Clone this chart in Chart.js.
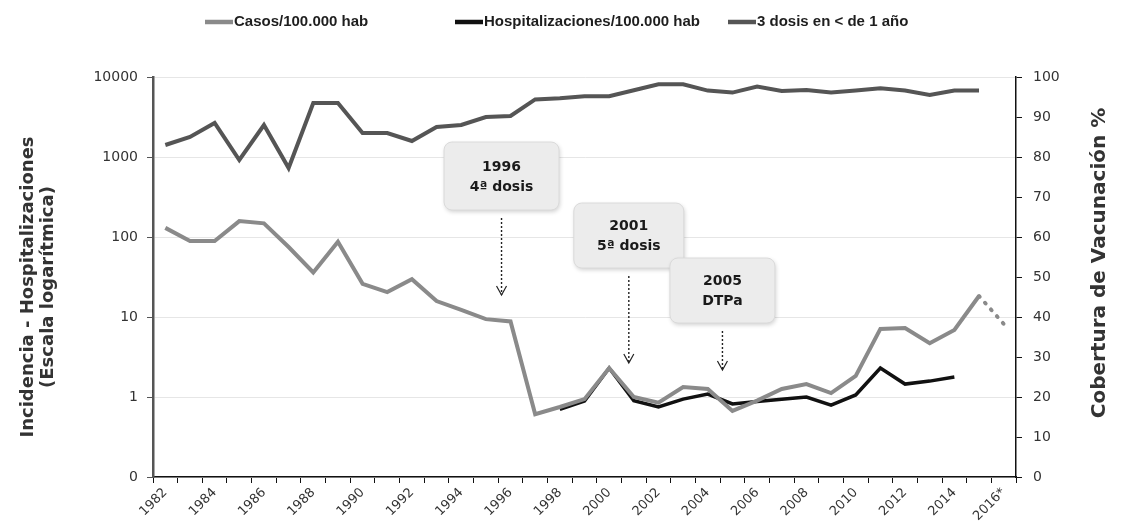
<!DOCTYPE html>
<html>
<head>
<meta charset="utf-8">
<title>Casos, hospitalizaciones y cobertura</title>
<script src="https://cdn.jsdelivr.net/npm/chart.js@4"></script>
<style>
  html, body { margin: 0; padding: 0; background: #fff; }
  #wrap { width: 1123px; height: 529px; }
</style>
</head>
<body>
<div id="wrap"><canvas id="chart"></canvas></div>
<script>
// categorías (años)
const years = ['1982', '1983', '1984', '1985', '1986', '1987', '1988', '1989', '1990', '1991',
  '1992', '1993', '1994', '1995', '1996', '1997', '1998', '1999', '2000', '2001',
  '2002', '2003', '2004', '2005', '2006', '2007', '2008', '2009', '2010', '2011',
  '2012', '2013', '2014', '2015', '2016*'];

// Casos/100.000 hab (escala logarítmica)
const casos = [130, 89, 89, 158, 148, 75, 36, 87, 26, 20.5,
  29.7, 15.8, 12.3, 9.4, 8.8, 0.61, 0.75, 0.94, 2.3, 1.0,
  0.85, 1.33, 1.26, 0.67, 0.9, 1.26, 1.45, 1.12, 1.83, 7.1,
  7.3, 4.7, 6.9, 18.3, 8.2];

// Hospitalizaciones/100.000 hab
const hospitalizaciones = [null, null, null, null, null, null, null, null, null, null,
  null, null, null, null, null, null, 0.7, 0.89, 2.3, 0.9,
  0.75, 0.94, 1.09, 0.82, 0.88, 0.94, 1.0, 0.79, 1.06, 2.3,
  1.45, 1.58, 1.78, null, null];

// 3 dosis en < de 1 año (%)
const cobertura = [83, 85, 88.5, 79.25, 88, 77.25, 93.5, 93.5, 86, 86,
  84, 87.5, 88, 90, 90.25, 94.4, 94.7, 95.2, 95.2, 96.7,
  98.2, 98.2, 96.6, 96.1, 97.6, 96.5, 96.75, 96.1, 96.6, 97.2,
  96.6, 95.5, 96.6, 96.6, null];

// ticks del eje izquierdo
const leftTicks = [0.1, 1, 10, 100, 1000, 10000];
const leftTickLabels = ['0', '1', '10', '100', '1000', '10000'];

// notas (año, texto)
const noteYears = ['1996', '2001', '2005'];
const noteTexts = [['1996', '4ª dosis'], ['2001', '5ª dosis'], ['2005', 'DTPa']];

// leyenda, títulos de ejes y cuadros con flechas
const extras = {
  id: 'extras',
  afterDatasetsDraw(chart) {
    const { ctx } = chart;
    const x = chart.scales.x;
    const y1 = chart.scales.y1;

    // leyenda (colores y textos tomados de los datasets)
    const legendX = [205, 455, 728];
    ctx.save();
    ctx.font = 'bold 15px "Liberation Sans", Arial, sans-serif';
    ctx.textBaseline = 'middle';
    ctx.textAlign = 'left';
    chart.data.datasets.forEach((ds, i) => {
      ctx.strokeStyle = ds.borderColor;
      ctx.lineWidth = 4.5;
      ctx.beginPath();
      ctx.moveTo(legendX[i], 22);
      ctx.lineTo(legendX[i] + 28, 22);
      ctx.stroke();
      ctx.fillStyle = '#1e1e1e';
      ctx.fillText(ds.label, legendX[i] + 29, 22);
    });
    ctx.restore();

    // posición de cada cuadro (en unidades del eje derecho)
    const geo = [
      { dx: -9, w: 115, top: 83.75, bottom: 66.75, tip: 45.5 },
      { dx: -5, w: 110, top: 68.5, bottom: 52.25, tip: 28.5 },
      { dx: -10, w: 105, top: 54.75, bottom: 38.5, tip: 26.75 }
    ];
    noteYears.forEach((yr, i) => {
      const g = geo[i];
      const cx = x.getPixelForValue(years.indexOf(yr)) + g.dx;
      const top = y1.getPixelForValue(g.top);
      const bottom = y1.getPixelForValue(g.bottom);
      const tip = y1.getPixelForValue(g.tip);

      ctx.save();
      ctx.shadowColor = 'rgba(0,0,0,0.18)';
      ctx.shadowBlur = 4;
      ctx.shadowOffsetX = 1;
      ctx.shadowOffsetY = 2;
      ctx.fillStyle = '#ececec';
      ctx.beginPath();
      ctx.roundRect(cx - g.w / 2, top, g.w, bottom - top, 8);
      ctx.fill();
      ctx.shadowColor = 'transparent';
      ctx.strokeStyle = '#dadada';
      ctx.lineWidth = 1;
      ctx.stroke();

      ctx.fillStyle = '#1a1a1a';
      ctx.font = 'bold 14px "DejaVu Sans"';
      ctx.textAlign = 'center';
      ctx.textBaseline = 'middle';
      const mid = (top + bottom) / 2;
      ctx.fillText(noteTexts[i][0], cx, mid - 9);
      ctx.fillText(noteTexts[i][1], cx, mid + 11);

      // flecha punteada
      ctx.strokeStyle = '#222';
      ctx.lineWidth = 1.4;
      ctx.setLineDash([2, 2]);
      ctx.beginPath();
      ctx.moveTo(cx, bottom + 8);
      ctx.lineTo(cx, tip);
      ctx.stroke();
      ctx.setLineDash([]);
      ctx.lineWidth = 1.2;
      ctx.beginPath();
      ctx.moveTo(cx - 5, tip - 9);
      ctx.lineTo(cx, tip);
      ctx.lineTo(cx + 5, tip - 9);
      ctx.stroke();
      ctx.restore();
    });

    // títulos de los ejes
    ctx.save();
    ctx.fillStyle = '#333';
    ctx.textAlign = 'center';
    ctx.textBaseline = 'middle';
    ctx.font = 'bold 18px "DejaVu Sans"';
    ctx.translate(28, 287);
    ctx.rotate(-Math.PI / 2);
    ctx.fillText('Incidencia - Hospitalizaciones', 0, 0);
    ctx.fillText('(Escala logarítmica)', 0, 20);
    ctx.restore();

    ctx.save();
    ctx.fillStyle = '#333';
    ctx.textAlign = 'center';
    ctx.textBaseline = 'middle';
    ctx.font = 'bold 20px "DejaVu Sans"';
    ctx.translate(1100, 263);
    ctx.rotate(-Math.PI / 2);
    ctx.fillText('Cobertura de Vacunación %', 0, 0);
    ctx.restore();
  }
};

Chart.defaults.font.family = '"DejaVu Sans", sans-serif';
Chart.defaults.color = '#333';

const ctx = document.getElementById('chart').getContext('2d');
new Chart(ctx, {
  type: 'line',
  data: {
    labels: years,
    datasets: [
      {
        label: 'Casos/100.000 hab',
        data: casos,
        yAxisID: 'y',
        borderColor: '#8a8a8a',
        borderWidth: 4,
        pointRadius: 0,
        tension: 0,
        segment: {
          borderDash: c => c.p0DataIndex === casos.length - 2 ? [1, 8] : undefined,
          borderCapStyle: c => c.p0DataIndex === casos.length - 2 ? 'round' : 'butt'
        }
      },
      {
        label: 'Hospitalizaciones/100.000 hab',
        data: hospitalizaciones,
        yAxisID: 'y',
        borderColor: '#111',
        borderWidth: 3.5,
        pointRadius: 0,
        tension: 0
      },
      {
        label: '3 dosis en < de 1 año',
        data: cobertura,
        yAxisID: 'y1',
        borderColor: '#555',
        borderWidth: 4,
        pointRadius: 0,
        tension: 0
      }
    ]
  },
  options: {
    responsive: true,
    maintainAspectRatio: false,
    animation: false,
    layout: { padding: { top: 77 } },
    plugins: {
      legend: { display: false },
      tooltip: { enabled: false }
    },
    scales: {
      x: {
        offset: true,
        afterFit: s => { s.height = 52; },
        grid: { offset: true, drawOnChartArea: false, tickColor: '#111', tickLength: 6 },
        border: { color: '#111', width: 1.5 },
        ticks: {
          autoSkip: false,
          minRotation: 45,
          maxRotation: 45,
          padding: 2,
          font: { size: 13 },
          callback: function (v, i) { return i % 2 === 0 ? this.getLabelForValue(v) : ''; }
        }
      },
      y: {
        type: 'logarithmic',
        position: 'left',
        min: 0.1,
        max: 10000,
        afterFit: s => { s.width = 153; },
        afterBuildTicks: s => { s.ticks = leftTicks.map(v => ({ value: v })); },
        grid: { color: '#e6e6e6', tickColor: '#555', tickLength: 6 },
        border: { color: '#555', width: 2.5 },
        ticks: {
          padding: 9,
          font: { size: 14 },
          callback: v => leftTickLabels[leftTicks.indexOf(v)]
        }
      },
      y1: {
        position: 'right',
        min: 0,
        max: 100,
        afterFit: s => { s.width = 107; },
        grid: { drawOnChartArea: false, tickColor: '#111', tickLength: 6 },
        border: { color: '#111', width: 1.5 },
        ticks: { stepSize: 10, padding: 11, font: { size: 14 } }
      }
    }
  },
  plugins: [extras]
});
</script>
</body>
</html>
